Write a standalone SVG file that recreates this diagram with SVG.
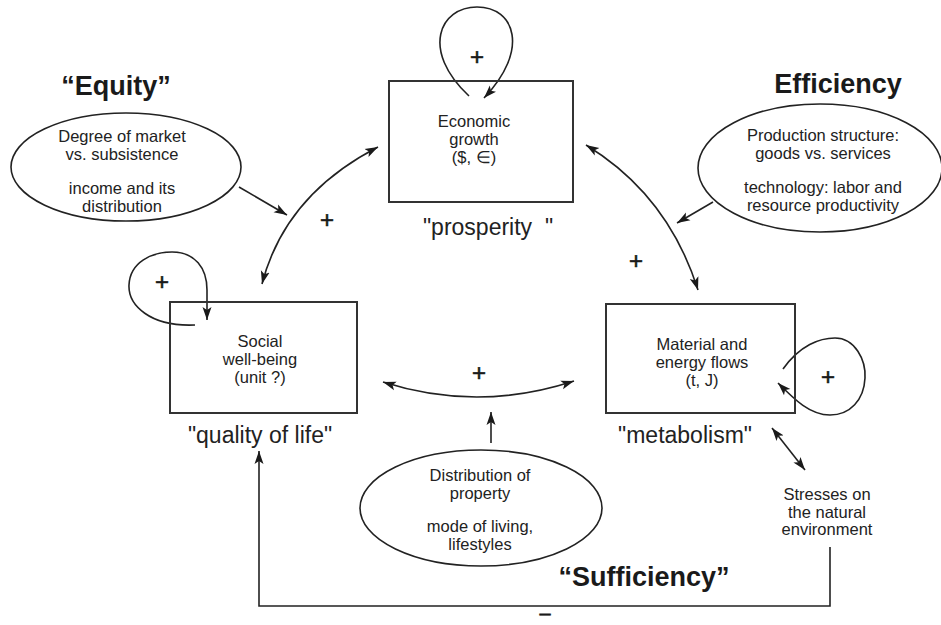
<svg xmlns="http://www.w3.org/2000/svg" width="941" height="625" viewBox="0 0 941 625">
<defs>
<marker id="ah" markerUnits="userSpaceOnUse" markerWidth="14" markerHeight="10" viewBox="0 0 14 10" refX="13" refY="5" orient="auto-start-reverse">
<path d="M0,0.5 L13,5 L0,9.5 L3,5 Z" fill="#1a1a1a"/>
</marker>
</defs>
<style>
.box{fill:none;stroke:#333;stroke-width:2}
.ell{fill:none;stroke:#222;stroke-width:1.6}
.ln{fill:none;stroke:#222;stroke-width:1.6}
.t{font-family:"Liberation Sans",Arial,sans-serif;font-size:16.5px;fill:#222;text-anchor:middle}
.lbl{font-family:"Liberation Sans",Arial,sans-serif;font-size:23px;fill:#222;text-anchor:middle;white-space:pre}
.hd{font-family:"Liberation Sans",Arial,sans-serif;font-size:27px;font-weight:bold;fill:#1a1a1a}
.pl{font-family:"Liberation Sans",Arial,sans-serif;font-size:24px;fill:#1a1a1a;text-anchor:middle;stroke:#1a1a1a;stroke-width:0.6}
</style>
<rect width="941" height="625" fill="#fff"/>

<g id="connectors">
<path class="ln" d="M469,96 C420,50 440,7 477,7 C515,7 530,50 484,98" marker-end="url(#ah)"/>
<path class="ln" d="M195,325 C150,327 128,305 129,285 C130,262 152,252 172,252 C195,252 207,268 207,290 L207,320" marker-end="url(#ah)"/>
<path class="ln" d="M783,369 C800,345 820,338 835,338 C855,338 866,360 865,378 C864,400 850,415 830,415 C810,415 795,400 778,383" marker-end="url(#ah)"/>
<path class="ln" d="M262,284 Q285,195 378,147" marker-start="url(#ah)" marker-end="url(#ah)"/>
<path class="ln" d="M586,145 Q668,195 698,290" marker-start="url(#ah)" marker-end="url(#ah)"/>
<path class="ln" d="M383,382 Q478,412.5 574,381" marker-start="url(#ah)" marker-end="url(#ah)"/>
<path class="ln" d="M491,443 L491,412" marker-end="url(#ah)"/>
<path class="ln" d="M239,187 L287,215" marker-end="url(#ah)"/>
<path class="ln" d="M713,202 L677,223" marker-end="url(#ah)"/>
<path class="ln" d="M772,428 L805,470" marker-start="url(#ah)" marker-end="url(#ah)"/>
<path class="ln" d="M830,547 L830,606 L259,606 L259,451" marker-end="url(#ah)"/>
</g>

<g id="signs">
<text class="pl" x="477" y="65">+</text>
<text class="pl" x="162" y="290">+</text>
<text class="pl" x="828" y="385">+</text>
<text class="pl" x="327" y="228">+</text>
<text class="pl" x="636" y="269">+</text>
<text class="pl" x="479" y="381">+</text>
<text class="pl" x="545" y="620" style="font-size:20px">–</text>
</g>

<g id="economic-growth">
<rect class="box" x="389" y="81" width="184" height="121"/>
<text class="t" x="474" y="127">Economic</text>
<text class="t" x="474" y="145">growth</text>
<text class="t" x="474" y="163">($, ∈)</text>
<text class="lbl" x="488" y="235" xml:space="preserve">"prosperity  "</text>
</g>

<g id="social-well-being">
<rect class="box" x="170" y="302" width="187" height="111"/>
<text class="t" x="260" y="347">Social</text>
<text class="t" x="260" y="365">well-being</text>
<text class="t" x="260" y="383">(unit ?)</text>
<text class="lbl" x="260" y="443">"quality of life"</text>
</g>

<g id="material-energy-flows">
<rect class="box" x="606" y="304" width="189" height="109"/>
<text class="t" x="702" y="350">Material and</text>
<text class="t" x="702" y="368">energy flows</text>
<text class="t" x="702" y="386">(t, J)</text>
<text class="lbl" x="685" y="443">"metabolism"</text>
</g>

<g id="equity">
<text class="hd" x="116" y="95" text-anchor="middle">“Equity”</text>
<ellipse class="ell" cx="126" cy="167" rx="115" ry="54"/>
<text class="t" x="122" y="142">Degree of market</text>
<text class="t" x="122" y="160">vs. subsistence</text>
<text class="t" x="122" y="194">income and its</text>
<text class="t" x="122" y="212">distribution</text>
</g>

<g id="efficiency">
<text class="hd" x="838" y="93" text-anchor="middle">Efficiency</text>
<ellipse class="ell" cx="820" cy="168" rx="122" ry="64"/>
<text class="t" x="823" y="141">Production structure:</text>
<text class="t" x="823" y="159">goods vs. services</text>
<text class="t" x="823" y="193">technology: labor and</text>
<text class="t" x="823" y="211">resource productivity</text>
</g>

<g id="sufficiency">
<text class="hd" x="644" y="586" text-anchor="middle">“Sufficiency”</text>
<ellipse class="ell" cx="481" cy="508" rx="121" ry="58"/>
<text class="t" x="480" y="481">Distribution of</text>
<text class="t" x="480" y="499">property</text>
<text class="t" x="480" y="532">mode of living,</text>
<text class="t" x="480" y="550">lifestyles</text>
</g>

<g id="stresses">
<text class="t" x="827" y="500">Stresses on</text>
<text class="t" x="827" y="518">the natural</text>
<text class="t" x="827" y="535">environment</text>
</g>
</svg>
